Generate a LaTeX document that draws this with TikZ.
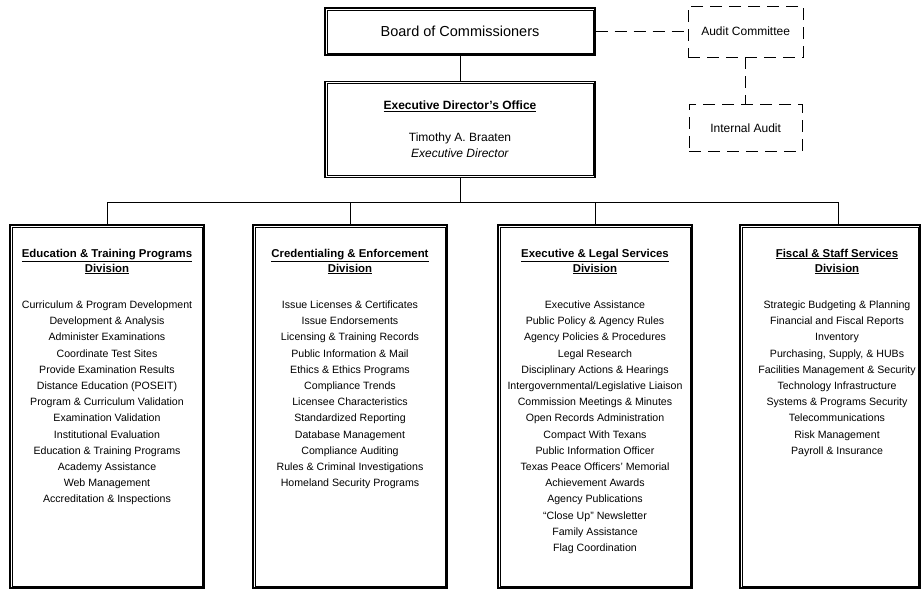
\documentclass[tikz,border=0pt]{standalone}
\usepackage{fontspec}
\setmainfont{Liberation Sans}
\usetikzlibrary{positioning}
\tikzset{
    office/.style={
           rectangle,
           draw=black, line width=1.3pt,
           inner sep=2pt,
           text centered,
           },
    inner/.style={draw=black, line width=0.6pt},
    division/.style={office, minimum width=194pt, minimum height=363pt},
    audit/.style={
           rectangle,
           draw=black, dash pattern=on 12pt off 7pt, line width=0.9pt,
           font=\fontsize{12}{14}\selectfont,
           },
    divtitle/.style={font=\fontsize{11.4}{15}\selectfont\bfseries, align=center, inner sep=0pt},
    duties/.style={font=\fontsize{10.6}{16.2}\selectfont, align=center, inner sep=0pt},
}

\begin{document}
\begin{tikzpicture}[x=1pt, y=-1pt, node distance=25pt, line width=1pt]
  \useasboundingbox (0,0) rectangle (921,589);
  \node[office, minimum width=270pt, minimum height=47pt, font=\fontsize{14.5}{17}\selectfont] (board) at (460,31.5) {Board of Commissioners};
  \node[office, minimum width=270pt, minimum height=96pt, below=25pt of board, align=center, font=\fontsize{12}{16}\selectfont] (exec)
       {\textbf{\underline{Executive Director's Office}}\\[16pt] Timothy A. Braaten\\ \textit{Executive Director}};
  \node[audit, minimum width=115pt, minimum height=51pt, right=92pt of board] (audit) {Audit Committee};
  \node[audit, minimum width=113pt, minimum height=47pt, below=47pt of audit] (internal) {Internal Audit};

  \node[division] (edu)   at (107,406.5) {};
  \node[division] (cred)  at (350,406.5) {};
  \node[division] (legal) at (595,406.5) {};
  \node[division, minimum width=180pt] (fisc) at (830,406.5) {};
  \foreach \n in {board,exec,edu,cred,legal,fisc}
    \draw[inner] ([shift={(2.6pt,2.6pt)}]\n.south west) rectangle ([shift={(-2.6pt,-2.6pt)}]\n.north east);

  \node[divtitle, below=24pt of edu.north] (edutitle) {\underline{Education \& Training Programs}\\\underline{Division}};
  \node[duties, below=76pt of edu.north] (edulist) {Curriculum \& Program Development\\ Development \& Analysis\\ Administer Examinations\\
       Coordinate Test Sites\\ Provide Examination Results\\ Distance Education (POSEIT)\\ Program \& Curriculum Validation\\
       Examination Validation\\ Institutional Evaluation\\ Education \& Training Programs\\ Academy Assistance\\
       Web Management\\ Accreditation \& Inspections};

  \node[divtitle, below=24pt of cred.north] (credtitle) {\underline{Credentialing \& Enforcement}\\\underline{Division}};
  \node[duties, below=76pt of cred.north] (credlist) {Issue Licenses \& Certificates\\ Issue Endorsements\\ Licensing \& Training Records\\
       Public Information \& Mail\\ Ethics \& Ethics Programs\\ Compliance Trends\\ Licensee Characteristics\\
       Standardized Reporting\\ Database Management\\ Compliance Auditing\\ Rules \& Criminal Investigations\\
       Homeland Security Programs};

  \node[divtitle, below=24pt of legal.north] (legaltitle) {\underline{Executive \& Legal Services}\\\underline{Division}};
  \node[duties, below=76pt of legal.north] (legallist) {Executive Assistance\\ Public Policy \& Agency Rules\\ Agency Policies \& Procedures\\
       Legal Research\\ Disciplinary Actions \& Hearings\\ Intergovernmental/Legislative Liaison\\ Commission Meetings \& Minutes\\
       Open Records Administration\\ Compact With Texans\\ Public Information Officer\\ Texas Peace Officers' Memorial\\
       Achievement Awards\\ Agency Publications\\ ``Close Up'' Newsletter\\ Family Assistance\\ Flag Coordination};

  \node[divtitle, below=24pt of fisc.north, xshift=7pt] (fisctitle) {\underline{Fiscal \& Staff Services}\\\underline{Division}};
  \node[duties, below=76pt of fisc.north, xshift=7pt] (fisclist) {Strategic Budgeting \& Planning\\ Financial and Fiscal Reports\\ Inventory\\
       Purchasing, Supply, \& HUBs\\ Facilities Management \& Security\\ Technology Infrastructure\\ Systems \& Programs Security\\
       Telecommunications\\ Risk Management\\ Payroll \& Insurance};

  \draw (board) -- (exec);
  \draw[dash pattern=on 12pt off 7pt] (board) -- (audit);
  \draw[dash pattern=on 12pt off 7pt] (audit) -- (internal);
  \draw (exec.south) -- ++(0,25) coordinate (bus);
  \foreach \d in {edu,cred,legal}
    \draw (bus) -| (\d.north);
  \draw (bus) -| ([xshift=8pt]fisc.north);
\end{tikzpicture}
\end{document}
